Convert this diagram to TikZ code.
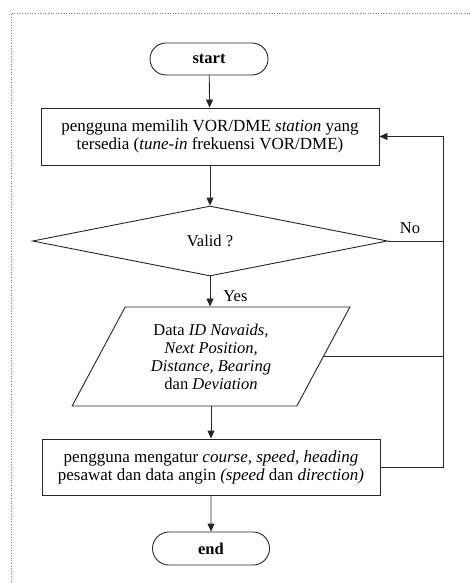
\documentclass[tikz,border=0pt]{standalone}
\usepackage{fontspec}
\setmainfont{Liberation Serif}
\usetikzlibrary{shapes.geometric,shapes.misc,arrows.meta}
\begin{document}
\begin{tikzpicture}[x=1pt,y=-1pt,
  every node/.style={font=\fontsize{17}{18}\selectfont},
  line/.style={draw=black!85, line width=0.9pt},
  arr/.style={line, -{Triangle[length=8pt,width=7pt]}},
  terminal/.style={rounded rectangle, line, minimum width=118pt, minimum height=32pt,
    inner sep=0pt, font=\fontsize{16.5}{18}\selectfont\bfseries},
  procbox/.style={rectangle, line, minimum width=338pt, minimum height=57pt,
    align=center, inner sep=0pt},
  decision/.style={diamond, line, minimum width=355pt, minimum height=70pt,
    inner sep=0pt, aspect=5},
  iobox/.style={trapezium, line, trapezium left angle=60.5, trapezium right angle=119.5,
    trapezium stretches=true, minimum width=278pt, minimum height=99pt,
    align=center, inner sep=0pt},
  lbl/.style={inner sep=0pt, font=\fontsize{16.5}{18}\selectfont}
]
% page area and dotted frame
\useasboundingbox (0,0) rectangle (470,583);
\draw[gray, dotted, line width=0.6pt] (11,600) -- (11,13) -- (480,13);

% flow steps
\node[terminal] (start) at (209,59) {start};
\node[procbox] (pilih) at (210,136.5)
  {pengguna memilih VOR/DME \textit{station} yang\\tersedia (\textit{tune-in} frekuensi VOR/DME)};
\node[decision, font=\fontsize{16.5}{18}\selectfont] (valid) at (210,241) {Valid ?};
\node[iobox, font=\fontsize{16.5}{18}\selectfont] (data) at (211,356.5)
  {Data \textit{ID Navaids,}\\\textit{Next Position,}\\\textit{Distance, Bearing}\\dan \textit{Deviation}};
\node[procbox, minimum height=56pt] (atur) at (211,467)
  {pengguna mengatur \textit{course, speed, heading}\\pesawat dan data angin \textit{(speed} dan \textit{direction)}};
\node[terminal, minimum width=117pt, minimum height=33pt] (end) at (211,548.5) {end};

% return line on the right
\coordinate (rx) at (443,0);

% connectors
\draw[arr] (start) -- (pilih);
\draw[arr] (pilih.south) -- (pilih.south |- valid.north);
\draw[arr] (valid.south) -- (valid.south |- data.north)
  node[lbl, pos=0.65, right=13pt] {Yes};
\draw[arr] (data.south -| atur.north) -- (atur.north);
\draw[arr] (atur) -- (end);
\draw[line] (valid.east) -- (valid.east -| rx) node[lbl, pos=0.4, above=7pt] {No};
\draw[line] (data.east) -- (data.east -| rx);
\draw[arr] (atur.east) -- (atur.east -| rx) |- (pilih.east);
\end{tikzpicture}
\end{document}
